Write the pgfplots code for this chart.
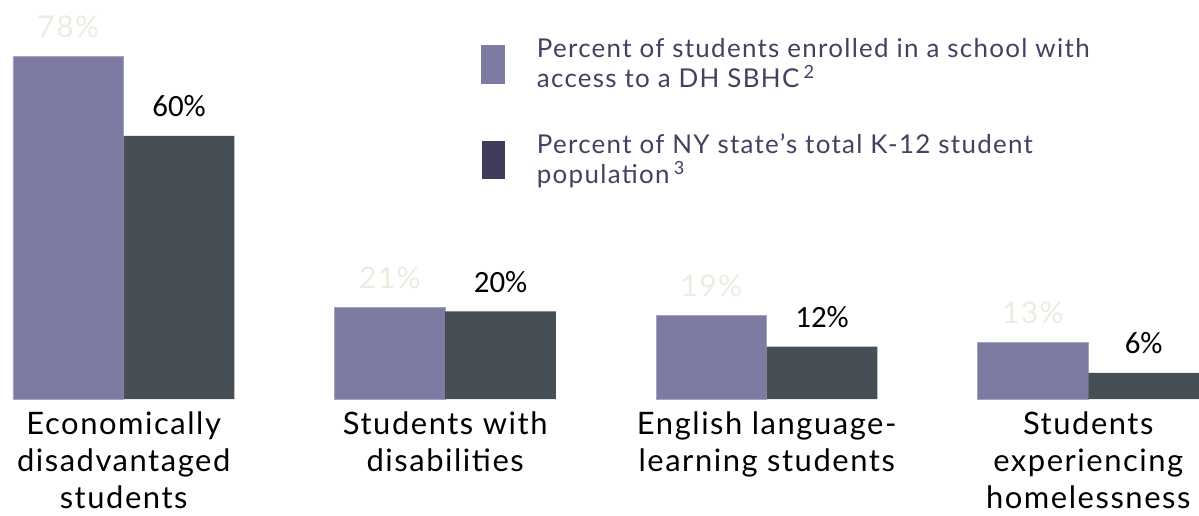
\documentclass[border=0pt]{standalone}
\usepackage{pgfplots}
\pgfplotsset{compat=1.18}
\usepackage{fontspec}
\setmainfont{Lato}[LetterSpace=5]
\newfontfamily\calibri{Carlito}

\definecolor{lightbar}{HTML}{7E7BA3}
\definecolor{darkbar}{HTML}{474F56}
\definecolor{legdark}{HTML}{3F3B5A}
\definecolor{legtext}{HTML}{45405F}
\definecolor{faint}{HTML}{EEEBE0}

% 1 px of the reference = 0.5bp
\begin{document}
\begin{tikzpicture}
\begin{axis}[
    scale only axis,
    width=599.5bp, height=258bp,
    xmin=-0.3847, xmax=3.3354,
    ymin=-26.36, ymax=90.91,
    ybar=0pt, bar width=0.3444,
    axis line style={draw=none},
    ytick=\empty,
    xtick={0,1,2,3},
    xticklabels={{Economically\\disadvantaged\\students},
                 {Students with\\disabilities},
                 {English language-\\learning students},
                 {Students\\experiencing\\homelessness}},
    major tick length=0pt,
    x tick label style={align=center, anchor=north, yshift=55bp,
        font=\fontsize{15.5bp}{18.5bp}\selectfont},
    /pgf/number format/assume math mode=true,
    clip=false,
    legend style={at={(0.402,0.935)}, anchor=north west, draw=none, fill=none,
        inner sep=0pt, row sep=18bp,
        nodes={align=left, text=legtext, font=\fontsize{13bp}{15bp}\selectfont,
               inner xsep=0pt}},
    legend cell align=left,
    /tikz/every odd column/.append style={column sep=16bp},
]

\addplot[fill=lightbar, draw=lightbar!70!white, line width=0.4bp,
    nodes near coords={\pgfmathprintnumber{\pgfplotspointmeta}\%},
    every node near coord/.append style={anchor=base, yshift=9.5bp,
        text=faint, font=\fontsize{15bp}{18bp}\selectfont},
    legend image code/.code={\fill[lightbar] (0bp,-9.5bp) rectangle (11.5bp,9.5bp);}]
    coordinates {(0,78) (1,21) (2,19) (3,13)};
\addlegendentry{Percent of students enrolled in a school with\\access to a DH SBHC\,\textsuperscript{2}}

\addplot[fill=darkbar, draw=none,
    nodes near coords={\pgfmathprintnumber{\pgfplotspointmeta}\%},
    every node near coord/.append style={anchor=base, yshift=9.5bp,
        text=black, font=\calibri\fontsize{15.5bp}{18bp}\selectfont},
    legend image code/.code={\fill[legdark] (0bp,-9.5bp) rectangle (11.5bp,9.5bp);}]
    coordinates {(0,60) (1,20) (2,12) (3,6)};
\addlegendentry{Percent of NY state’s total K-12 student\\population\,\textsuperscript{3}}

\end{axis}
\end{tikzpicture}
\end{document}
